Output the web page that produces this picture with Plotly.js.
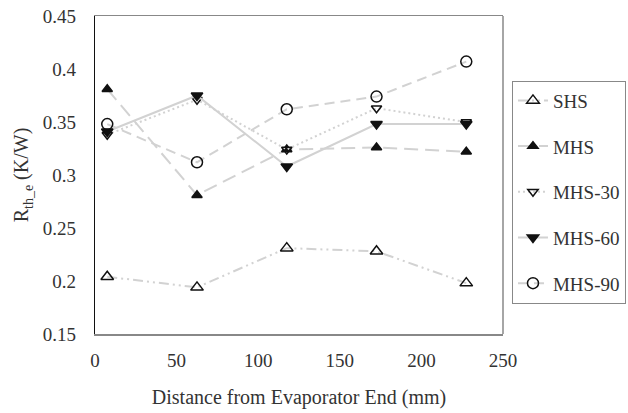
<!DOCTYPE html>
<html><head><meta charset="utf-8">
<script src="https://cdn.plot.ly/plotly-3.0.1.min.js"></script>
<style>html,body{margin:0;padding:0;background:#fff}#c{width:628px;height:413px}</style>
</head><body><div id="c"></div>
<script>
const distance = [7.5, 62.5, 117.5, 172.5, 227.5];
const SHS   = [0.204, 0.194, 0.231, 0.228, 0.198];
const MHS   = [0.381, 0.281, 0.324, 0.326, 0.322];
const MHS30 = [0.338, 0.371, 0.324, 0.363, 0.350];
const MHS60 = [0.341, 0.375, 0.308, 0.348, 0.348];
const MHS90 = [0.348, 0.312, 0.362, 0.374, 0.407];
const seriesNames = ['SHS', 'MHS', 'MHS-30', 'MHS-60', 'MHS-90'];

const lineCol = '#d2d2d2';
const styles = [
  {dash: '10px,4px,2px,4px,2px,4px', symbol: 'triangle-up-open', size: 11},
  {dash: '14px,7px', symbol: 'triangle-up', size: 9},
  {dash: '2px,3px', symbol: 'triangle-down-open', size: 9},
  {dash: 'solid', symbol: 'triangle-down', size: 10},
  {dash: '10px,6px', symbol: 'circle-open', size: 11}
];
const vals = [SHS, MHS, MHS30, MHS60, MHS90];
const traces = vals.map((v, i) => ({
  x: distance, y: v, name: seriesNames[i], type: 'scatter', mode: 'lines+markers',
  legendgroup: 'g' + i,
  line: {color: lineCol, width: 2, dash: styles[i].dash},
  marker: {symbol: styles[i].symbol, size: styles[i].size, color: '#111',
           line: {color: '#111', width: 1.5}}
}));

const fam = 'Liberation Serif, Times New Roman, serif';
const font = {family: fam, size: 19, color: '#333'};
const titleFont = {family: fam, size: 20, color: '#333'};
const layout = {
  width: 628, height: 413,
  margin: {l: 95, r: 125, t: 16, b: 79, autoexpand: false},
  paper_bgcolor: '#fff', plot_bgcolor: '#fff',
  font: font,
  showlegend: true,
  xaxis: {
    range: [0, 250], dtick: 50, tick0: 0, showgrid: false, zeroline: false,
    showline: true, linecolor: '#888', linewidth: 1.5, mirror: true,
    ticks: '', ticklabelstandoff: 9, tickfont: font,
    title: {text: 'Distance from Evaporator End (mm)', font: titleFont, standoff: 19}
  },
  yaxis: {
    range: [0.15, 0.45], dtick: 0.05, tick0: 0.15, showgrid: false, zeroline: false,
    showline: true, linecolor: '#111', linewidth: 1.2, ticks: '',
    ticklabelstandoff: 14, tickfont: font,
    title: {text: 'R<sub>th_e</sub> (K/W)', font: titleFont, standoff: 8}
  },
  shapes: [{type: 'line', xref: 'paper', yref: 'paper', x0: 1, x1: 1, y0: 0, y1: 1,
            line: {color: '#888', width: 1.5}}],
  legend: {
    x: 1.022, xanchor: 'left', y: 0.797, yanchor: 'top',
    bordercolor: '#888', borderwidth: 1, bgcolor: '#fff',
    font: font, tracegroupgap: 18, traceorder: 'grouped'
  }
};
Plotly.newPlot('c', traces, layout, {displayModeBar: false, staticPlot: true});
</script></body></html>
